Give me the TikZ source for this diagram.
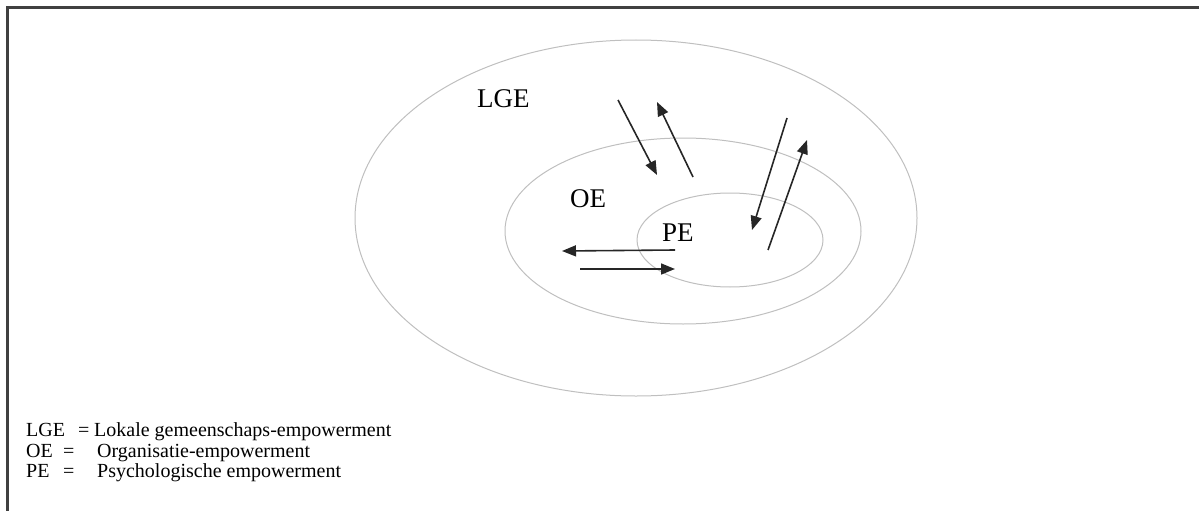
\documentclass[tikz,border=0pt]{standalone}
\usepackage{fontspec}
\setmainfont{Liberation Serif}
\usetikzlibrary{arrows.meta}

\begin{document}
\begin{tikzpicture}[x=1pt,y=-1pt,ring/.style={draw=black!25,line width=1pt},flow/.style={-{Triangle[length=14pt,width=11pt]},line width=1.6pt,black!85},ringname/.style={font=\fontsize{27}{27}\selectfont,inner sep=0pt,anchor=base west},keytext/.style={font=\fontsize{20}{20}\selectfont,inner sep=0pt,anchor=base west}]
	\useasboundingbox (0,0) rectangle (1199,511);
	\draw[line width=2.4pt,black!75] (1199,7.5) -- (7.5,7.5) -- (7.5,511);
	\draw[ring] (636,218) ellipse [x radius=281, y radius=178];
	\draw[ring] (683,231) ellipse [x radius=178, y radius=93];
	\draw[ring] (730,240) ellipse [x radius=93, y radius=47];
	\node[ringname] (lge) at (477,107) {LGE};
	\node[ringname] (oe) at (570,207) {OE};
	\node[ringname] (pe) at (662,241) {PE};
	\coordinate (in1) at (618,100);
	\coordinate (out1) at (657,175);
	\coordinate (in2) at (693,177);
	\coordinate (out2) at (657,102);
	\coordinate (in3) at (787,118);
	\coordinate (out3) at (752,230);
	\coordinate (in4) at (768,250);
	\coordinate (out4) at (807,140);
	\coordinate (in5) at (675,250);
	\coordinate (out5) at (562,251);
	\coordinate (in6) at (580,269);
	\coordinate (out6) at (675,269);
	\draw[flow] (in1) -- (out1);
	\draw[flow] (in2) -- (out2);
	\draw[flow] (in3) -- (out3);
	\draw[flow] (in4) -- (out4);
	\draw[flow] (in5) -- (out5);
	\draw[flow] (in6) -- (out6);
	\node[keytext] (key1) at (26,436) {\makebox[52pt][l]{LGE}\makebox[16pt][l]{=}Lokale gemeenschaps-empowerment};
	\node[keytext] (key2) at (26,457) {\makebox[37pt][l]{OE}\makebox[34pt][l]{=}Organisatie-empowerment};
	\node[keytext] (key3) at (26,477) {\makebox[37pt][l]{PE}\makebox[34pt][l]{=}Psychologische empowerment};
\end{tikzpicture}
\end{document}
